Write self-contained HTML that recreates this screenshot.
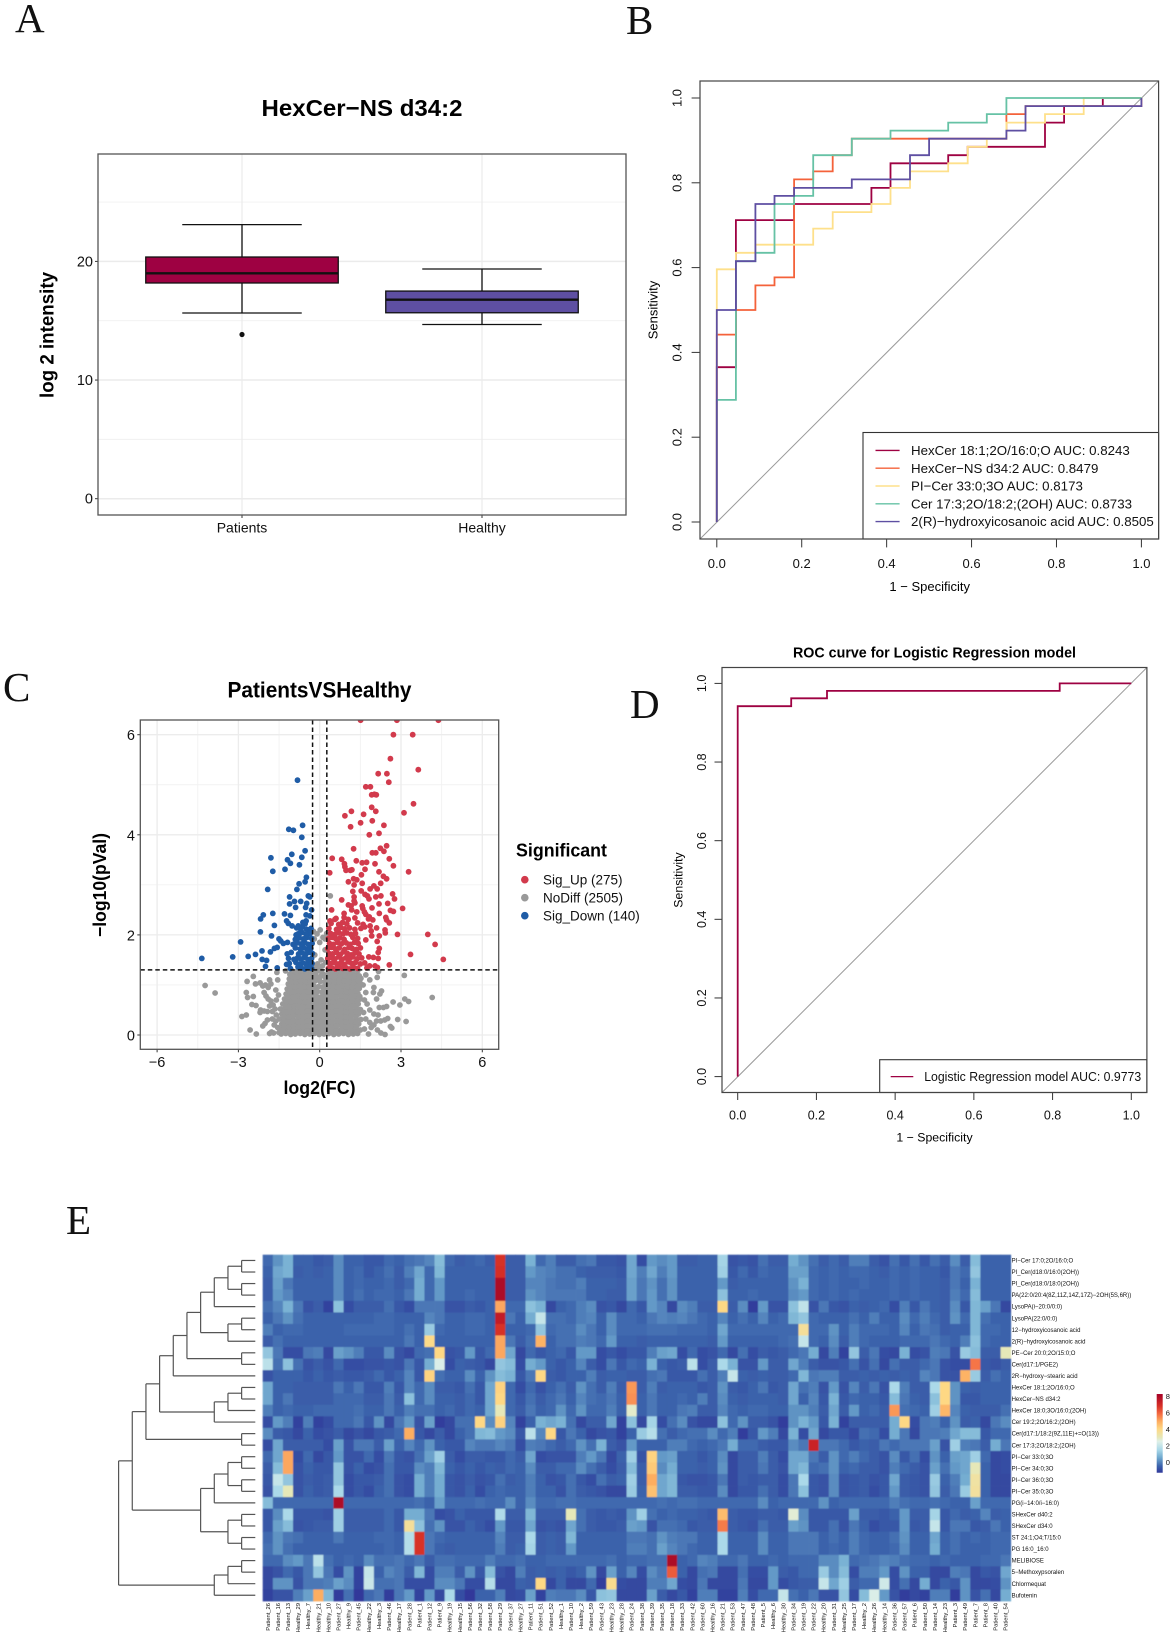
<!DOCTYPE html>
<html lang="en">
<head>
<meta charset="utf-8">
<title>Multi-panel lipidomics figure</title>
<style>
html,body{margin:0;padding:0;background:#fff}
svg{display:block;font-family:"Liberation Sans",Arial,sans-serif}
.letter{font-family:"Liberation Serif",serif;font-size:41px;fill:#111}
</style>
</head>
<body>
<svg id="fig" width="1174" height="1637" viewBox="0 0 1174 1637">
<defs><filter id="softCells" x="-1%" y="-1%" width="102%" height="102%"><feGaussianBlur stdDeviation="0.45"/></filter></defs>
<rect width="1174" height="1637" fill="#fff"/>
<text class="letter" x="15" y="32">A</text>
<text class="letter" x="626" y="34">B</text>
<text class="letter" x="3" y="701">C</text>
<text class="letter" x="630" y="718">D</text>
<text class="letter" x="66" y="1234">E</text>

<g id="panelA">
<text x="362" y="116" text-anchor="middle" font-size="23" font-weight="bold" textLength="201" lengthAdjust="spacingAndGlyphs">HexCer−NS d34:2</text>
<text x="53.6" y="335" transform="rotate(-90 53.6 335)" text-anchor="middle" font-size="19" font-weight="bold" textLength="126" lengthAdjust="spacingAndGlyphs">log 2 intensity</text>
</g>

<g id="panelB">
<text x="657.5" y="310" transform="rotate(-90 657.5 310)" text-anchor="middle" font-size="13">Sensitivity</text>
<text x="929.7" y="591" text-anchor="middle" font-size="13">1 − Specificity</text>
</g>

<g id="panelC">
<text x="319.5" y="697.3" text-anchor="middle" font-size="22" font-weight="bold" textLength="184" lengthAdjust="spacingAndGlyphs">PatientsVSHealthy</text>
<text x="319.5" y="1094" text-anchor="middle" font-size="18" font-weight="bold" textLength="72" lengthAdjust="spacingAndGlyphs">log2(FC)</text>
<text x="106" y="885" transform="rotate(-90 106 885)" text-anchor="middle" font-size="18" font-weight="bold" textLength="104" lengthAdjust="spacingAndGlyphs">−log10(pVal)</text>
<text x="516" y="856.7" font-size="18" font-weight="bold" textLength="91" lengthAdjust="spacingAndGlyphs">Significant</text>
</g>

<g id="panelD">
<text x="934.5" y="657.7" text-anchor="middle" font-size="15" font-weight="bold" textLength="283" lengthAdjust="spacingAndGlyphs">ROC curve for Logistic Regression model</text>
<text x="682.5" y="880" transform="rotate(-90 682.5 880)" text-anchor="middle" font-size="12.3">Sensitivity</text>
<text x="934.5" y="1141.5" text-anchor="middle" font-size="12.3">1 − Specificity</text>
</g>

<g id="panelE"></g>
</svg>

<script>
/* ---------- Panel A data ---------- */
const boxCategories=["Patients","Healthy"];
const boxQ1=[18.18,15.67];
const boxMedian=[19.0,16.77];
const boxQ3=[20.37,17.5];
const boxWhiskerLow=[15.65,14.68];
const boxWhiskerHigh=[23.1,19.36];
const boxOutliers=[13.84,null];
const boxColors=["#9E0142","#5E4FA2"];
const boxYTicks=[0,10,20];
const boxYMinor=[5,15,25];

/* ---------- Panel B data ---------- */
const rocSeriesNames=["HexCer 18:1;2O/16:0;O AUC: 0.8243","HexCer−NS d34:2 AUC: 0.8479","PI−Cer 33:0;3O AUC: 0.8173","Cer 17:3;2O/18:2;(2OH) AUC: 0.8733","2(R)−hydroxyicosanoic acid AUC: 0.8505"];
const rocColors=["#9E0142","#F4623A","#FEE08B","#66C2A5","#5E4FA2"];
const rocFpr1=[0,0,.045,.045,.182,.182,.364,.364,.409,.409,.545,.545,.591,.591,.773,.773,.818,.818,.909,.909,1];
const rocTpr1=[0,.365,.365,.712,.712,.75,.75,.788,.788,.846,.846,.865,.865,.885,.885,.942,.942,.981,.981,1,1];
const rocFpr2=[0,0,.045,.045,.091,.091,.136,.136,.182,.182,.227,.227,.273,.273,.318,.318,.682,.682,.727,.727,1,1];
const rocTpr2=[0,.442,.442,.5,.5,.558,.558,.577,.577,.808,.808,.827,.827,.865,.865,.904,.904,.962,.962,.981,.981,1];
const rocFpr3=[0,0,.045,.045,.091,.091,.227,.227,.273,.273,.364,.364,.409,.409,.455,.455,.545,.545,.591,.591,.636,.636,.682,.682,.773,.773,.864,.864,1];
const rocTpr3=[0,.596,.596,.635,.635,.654,.654,.692,.692,.731,.731,.75,.75,.788,.788,.827,.827,.846,.846,.885,.885,.904,.904,.942,.942,.962,.962,1,1];
const rocFpr4=[0,0,.045,.045,.091,.091,.136,.136,.182,.182,.227,.227,.318,.318,.409,.409,.545,.545,.636,.636,.682,.682,1];
const rocTpr4=[0,.288,.288,.615,.615,.635,.635,.75,.75,.769,.769,.865,.865,.904,.904,.923,.923,.942,.942,.962,.962,1,1];
const rocFpr5=[0,0,.045,.045,.091,.091,.136,.136,.182,.182,.318,.318,.455,.455,.5,.5,.682,.682,.727,.727,1,1];
const rocTpr5=[0,.5,.5,.615,.615,.75,.75,.769,.769,.788,.788,.808,.808,.865,.865,.904,.904,.923,.923,.981,.981,1];
const rocTicks=[0,.2,.4,.6,.8,1];

/* ---------- Panel C data: [log2FC, -log10(p)] ---------- */
const volcanoXTicks=[-6,-3,0,3,6];
const volcanoYTicks=[0,2,4,6];
const volcanoLegend=["Sig_Up (275)","NoDiff (2505)","Sig_Down (140)"];
const volcanoColors=["#D23A4C","#999999","#1F5CA6"];
const volcanoLimitFC=.263;
const volcanoLimitP=1.3;
const sigUpPoints=[[1.51,6.29],[2.85,6.29],[4.38,6.29],[2.72,6],[3.43,6],[2.61,5.52],[3.64,5.3],[2.16,5.22],[2.48,5.22],[2.55,5.05],[1.7,4.96],[1.87,4.96],[1.92,4.8],[2.02,4.81],[2.09,4.8],[3.46,4.62],[3.11,4.44],[1.92,4.55],[2.07,4.47],[1.62,4.41],[1.17,4.47],[.93,4.38],[1.94,4.28],[1.51,4.24],[1.14,4.16],[2.37,4.19],[2.19,4.03],[1.83,4],[1.25,3.72],[2.47,3.78],[2.24,3.73],[2.37,3.67],[1.94,3.64],[2.07,3.64],[.46,3.53],[.81,3.51],[2.57,3.52],[.91,3.42],[1.35,3.48],[1.57,3.44],[1.73,3.45],[2.04,3.42],[2.72,3.38],[.93,3.36],[.97,3.29],[1.13,3.29],[1.19,3.3],[1.67,3.31],[.37,3.24],[1.54,3.2],[2.19,3.26],[3.28,3.26],[2.35,3.17],[2.47,3.12],[1.25,3.12],[1.37,3.1],[1.06,3.06],[1.27,3],[1.57,3.03],[2.25,3.03],[2,2.98],[1.86,2.92],[2.12,2.92],[1.22,2.87],[1.53,2.88],[1.67,2.81],[1.76,2.78],[1.27,2.76],[2.07,2.76],[2.26,2.78],[2.69,2.82],[2.76,2.72],[1.82,2.72],[.81,2.7],[1.27,2.68],[1.06,2.6],[1.16,2.58],[1.3,2.64],[1.57,2.58],[1.59,2.53],[1.93,2.54],[2.19,2.62],[2.51,2.63],[.44,2.5],[3.06,2.53],[2.61,2.49],[2.72,2.47],[2.2,2.43],[1.65,2.46],[1.7,2.41],[1.18,2.5],[1.37,2.46],[.9,2.43],[2.44,2.35],[2.47,2.3],[2.57,2.24],[1.83,2.36],[1.96,2.3],[.38,2.28],[.56,2.31],[1.86,2.18],[2.1,2.14],[2.41,2.1],[2.42,2.04],[2.87,2.01],[3.99,2.01],[4.26,1.81],[4.56,1.51],[3.35,1.61],[2.57,1.4],[2.12,1.87],[2.2,1.73],[2.16,1.65],[2.16,1.53],[1.98,1.55],[1.81,1.56],[2.04,1.38],[2.13,1.35],[1.84,1.38],[1.74,1.34],[1.92,1.98],[2.2,1.98],[1.9,2.08],
[.32,1.33],[.45,1.34],[.58,1.32],[.72,1.35],[.85,1.33],[.98,1.34],[1.12,1.32],[1.25,1.35],[1.4,1.33],[.36,1.43],[.5,1.45],[.63,1.42],[.77,1.44],[.9,1.41],[1.05,1.46],[1.18,1.43],[1.32,1.45],[1.5,1.42],[1.66,1.44],[.3,1.53],[.42,1.55],[.56,1.52],[.7,1.56],[.82,1.51],[.96,1.54],[1.1,1.53],[1.22,1.56],[1.38,1.52],[1.55,1.54],[.34,1.63],[.48,1.62],[.62,1.65],[.76,1.61],[.88,1.66],[1.02,1.63],[1.16,1.6],[1.3,1.64],[1.45,1.62],[.3,1.73],[.44,1.75],[.58,1.72],[.72,1.74],[.92,1.71],[1.08,1.75],[1.2,1.73],[1.36,1.71],[1.5,1.74],[.36,1.83],[.5,1.81],[.66,1.85],[.8,1.82],[.98,1.84],[1.12,1.81],[1.28,1.85],[1.42,1.83],[.32,1.93],[.46,1.95],[.6,1.92],[.74,1.94],[.9,1.91],[1.22,1.95],[1.4,1.93],[1.7,1.9],[.4,2.03],[.56,2.01],[.7,2.05],[.86,2.02],[1,2.04],[1.15,2.01],[1.32,2.03],[.34,2.13],[.62,2.11],[.78,2.15],[.92,2.12],[1.1,2.14],[1.3,2.11],[1.52,2.13],[1.66,2.16],[.42,2.23],[.7,2.21],[.85,2.25],[1,2.22],[1.4,2.24],[1.6,2.21],[.6,2.33],[.9,2.35],[1.05,2.31],[1.3,2.34],[1.8,2.32]];
const sigDownPoints=[[-4.35,1.53],[-3.21,1.56],[-2.64,1.57],[-2.37,1.61],[-2.13,1.68],[-2.12,1.51],[-1.96,1.49],[-2,1.37],[-1.57,1.34],[-2.92,1.86],[-2.19,2.06],[-1.78,1.98],[-1.82,1.66],[-1.67,1.73],[-1.57,1.75],[-1.5,1.92],[-1.44,1.88],[-1.34,1.83],[-1.19,1.85],[-2.18,2.32],[-2.08,2.4],[-1.73,2.43],[-1.67,2.19],[-1.3,2.42],[-1.08,2.39],[-1.22,2.28],[-1.16,2.23],[-1.02,2.18],[-1.92,2.91],[-1.73,3.27],[-1.8,3.54],[-1.28,3.31],[-1.19,3.5],[-1.08,3.43],[-1.03,3.61],[-.75,3.4],[-.66,3.55],[-.54,3.68],[-.66,3.95],[-.63,4.19],[-1.14,4.11],[-.97,4.09],[-.82,5.09],[-.49,3.15],[-.54,3.06],[-.76,3.02],[-.84,2.91],[-1.11,2.76],[-.42,2.78],[-.36,2.76],[-.93,2.67],[-.7,2.67],[-1.11,2.62],[-.89,2.55],[-.48,2.63],[-.52,2.55],[-.3,2.5],[-.36,2.38],[-.5,2.4],[-.5,2.28],[-.54,2.22],[-.79,2.18],[-.64,2.16],[-.48,2.11],[-.36,2.1],[-.73,2.03],[-.87,2],
[-.3,1.33],[-.42,1.35],[-.55,1.32],[-.68,1.34],[-.8,1.36],[-1.08,1.33],[-.28,1.43],[-.38,1.45],[-.5,1.42],[-.62,1.44],[-.75,1.41],[-.88,1.45],[-1.12,1.43],[-1.22,1.41],[-.3,1.53],[-.44,1.51],[-.56,1.55],[-.7,1.52],[-.82,1.54],[-.95,1.51],[-1.15,1.53],[-.27,1.63],[-.4,1.65],[-.52,1.61],[-.64,1.64],[-.78,1.62],[-1.05,1.65],[-1.2,1.62],[-.33,1.73],[-.47,1.71],[-.6,1.75],[-.72,1.72],[-.9,1.74],[-.28,1.83],[-.42,1.81],[-.55,1.85],[-.68,1.82],[-.82,1.84],[-.98,1.81],[-.3,1.93],[-.46,1.95],[-.6,1.92],[-.75,1.94],[-.9,1.91],[-.36,2.03],[-.5,2.01],[-.65,2.05],[-.8,2.02],[-.32,2.13],[-.7,2.11],[-.85,2.14],[-.54,2.23],[-.62,2.25]];
const noDiffPoints=[[-4.23,.99],[-3.86,.84],[-2.87,.37],[-2.71,.4],[-2.57,.1],[-2.34,.02],[-2.71,.85],[-2.66,.75],[-2.45,.77],[-2.68,1.07],[-2.45,1.17],[-2.37,1.02],[-2.5,.61],[-2.35,.59],[-2.18,.5],[-1.93,.47],[-2.1,.18],[-2.02,.23],[-1.93,.3],[-1.78,.06],[-1.7,.04],[-1.85,.03],[-2.2,.45],[-2.05,.48],[-2.2,1.04],[-2.1,.98],[-2,1],[-1.9,.95],[-1.8,1.02],[-1.85,1.1],[-2.05,.85],[-1.98,.78],[-1.9,.72],[-1.8,.68],[-1.72,.6],[-1.85,.58],[-1.75,.47],[-1.65,.52],[-1.6,.4],[-1.75,.32],[-1.68,.2],[-1.62,.28],[-1.58,1.25],[-1.55,1.1],[-1.62,.9],[-1.52,.8],[-1.6,.7],[-1.55,.15],[-1.5,.05],
[3.12,1.19],[4.15,.75],[3.14,.72],[3.28,.67],[2.71,.66],[2.96,.6],[2.88,.31],[3.19,.27],[2.61,.17],[2.66,.14],[2.13,.1],[2.26,.04],[2.41,.01],[2.51,.33],[2.47,.57],[2.35,.55],[2.2,.55],[2.15,.4],[2.1,.72],[2.28,.88],[2.22,.82],[2,.95],[1.85,1.1],[1.98,.85],[2.1,.28],[2,.2],[1.9,.15],[2.25,.28],[2.4,.3],[2,.42],[1.85,.5],[1.75,.62],[1.65,.7],[1.7,.32],[1.85,.25],[1.65,.12],[1.8,.02],[2.12,1.15],[2.17,1.27],[1.7,.85],[1.6,1],[1.7,1.2],[1.62,.45],[.39,2.78],[.02,2.1],[-.23,2.07],[.26,2.03],[0,1.85],[-.2,1.92],[.2,1.92],[-.1,2.02],[.12,1.95],[.05,1.5],[-.08,1.42],[.1,1.38],[-.18,1.6],[.2,1.7],[-.15,1.35],[.22,1.45],[0,1.32],
[-1.42,.02],[-1.25,.03],[-1.07,.01],[-.9,.02],[-.72,.03],[-.55,.01],[-.37,.02],[-.2,.03],[-.02,.01],[.16,.02],[.34,.03],[.52,.01],[.7,.02],[.88,.03],[1.06,.01],[1.24,.02],[1.4,.03],
[-1.46,.12],[-1.3,.1],[-1.14,.13],[-.97,.11],[-.8,.12],[-.63,.1],[-.46,.13],[-.28,.11],[-.1,.12],[.08,.1],[.25,.13],[.43,.11],[.61,.12],[.79,.1],[.97,.13],[1.15,.11],[1.33,.12],[1.5,.1],
[-1.4,.22],[-1.22,.21],[-1.05,.23],[-.87,.2],[-.7,.22],[-.52,.21],[-.35,.23],[-.17,.2],[.01,.22],[.18,.21],[.36,.23],[.54,.2],[.72,.22],[.9,.21],[1.08,.23],[1.26,.2],[1.44,.22],
[-1.48,.32],[-1.31,.31],[-1.13,.33],[-.96,.3],[-.78,.32],[-.61,.31],[-.43,.33],[-.26,.3],[-.08,.32],[.1,.31],[.27,.33],[.45,.3],[.63,.32],[.81,.31],[.99,.33],[1.17,.3],[1.35,.32],[1.52,.31],
[-1.4,.42],[-1.23,.41],[-1.06,.43],[-.88,.4],[-.71,.42],[-.53,.41],[-.36,.43],[-.18,.4],[0,.42],[.18,.41],[.35,.43],[.53,.4],[.71,.42],[.89,.41],[1.07,.43],[1.25,.4],[1.43,.42],
[-1.45,.52],[-1.29,.51],[-1.12,.53],[-.95,.5],[-.77,.52],[-.6,.51],[-.42,.53],[-.25,.5],[-.07,.52],[.11,.51],[.28,.53],[.46,.5],[.64,.52],[.82,.51],[1,.53],[1.18,.5],[1.36,.52],[1.5,.51],
[-1.36,.62],[-1.18,.61],[-1.03,.63],[-.86,.6],[-.69,.62],[-.51,.61],[-.34,.63],[-.16,.6],[.02,.62],[.19,.61],[.37,.63],[.55,.6],[.73,.62],[.91,.61],[1.09,.63],[1.27,.6],[1.42,.62],
[-1.3,.72],[-1.14,.71],[-.97,.73],[-.79,.7],[-.62,.72],[-.44,.71],[-.27,.73],[-.09,.7],[.1,.72],[.27,.71],[.45,.73],[.63,.7],[.81,.72],[.99,.71],[1.17,.73],[1.35,.7],[1.5,.72],
[-1.24,.82],[-1.06,.81],[-.89,.83],[-.71,.8],[-.54,.82],[-.36,.81],[-.19,.83],[.16,.8],[.33,.82],[.51,.81],[.69,.83],[.87,.8],[1.05,.82],[1.23,.81],[1.41,.83],
[-1.2,.92],[-1.02,.91],[-.84,.93],[-.67,.9],[-.49,.92],[-.32,.91],[-.14,.93],[.2,.9],[.38,.92],[.56,.91],[.74,.93],[.92,.9],[1.1,.92],[1.28,.91],[1.46,.93],
[-1.16,1.02],[-.98,1.01],[-.81,1.03],[-.63,1],[-.46,1.02],[-.28,1.01],[.24,1],[.42,1.02],[.6,1.01],[.78,1.03],[.96,1],[1.14,1.02],[1.32,1.01],[1.5,1.03],
[-1.12,1.12],[-.94,1.11],[-.77,1.13],[-.59,1.1],[-.42,1.12],[-.24,1.11],[-.05,1.13],[.28,1.1],[.46,1.12],[.64,1.11],[.82,1.13],[1,1.1],[1.18,1.12],[1.36,1.11],[1.52,1.13],
[-1.1,1.21],[-.92,1.22],[-.75,1.2],[-.57,1.23],[-.4,1.21],[-.22,1.2],[.12,1.22],[.3,1.21],[.48,1.23],[.66,1.2],[.84,1.22],[1.02,1.21],[1.2,1.23],[1.38,1.2],
[-1.26,1.28],[-1.02,1.28],[-.85,1.27],[-.67,1.28],[-.5,1.27],[-.32,1.28],[-.12,1.26],[.05,1.27],[.32,1.28],[.5,1.27],[.68,1.28],[.86,1.27],[1.04,1.28],[1.22,1.27],[1.4,1.28],
[-1.34,.07],[-1.16,.06],[-.98,.08],[-.81,.07],[-.63,.06],[-.46,.08],[-.28,.07],[-.11,.06],[.07,.08],[.25,.07],[.43,.06],[.61,.08],[.79,.07],[.97,.06],[1.15,.08],[1.33,.07],
[-1.31,.17],[-1.13,.16],[-.96,.18],[-.79,.17],[-.62,.16],[-.45,.18],[-.26,.17],[-.09,.16],[.09,.18],[.27,.17],[.45,.16],[.63,.18],[.81,.17],[.99,.16],[1.17,.18],[1.35,.17],
[-1.33,.27],[-1.15,.26],[-.97,.28],[-.8,.27],[-.62,.26],[-.44,.28],[-.27,.27],[-.09,.26],[.09,.28],[.26,.27],[.44,.26],[.63,.28],[.8,.27],[.98,.26],[1.16,.28],[1.34,.27],
[-1.32,.37],[-1.14,.36],[-.97,.38],[-.79,.37],[-.62,.36],[-.45,.38],[-.27,.37],[-.09,.36],[.09,.38],[.27,.37],[.44,.36],[.62,.38],[.8,.37],[.98,.36],[1.16,.38],[1.34,.37],
[-1.31,.47],[-1.14,.46],[-.97,.48],[-.8,.47],[-.62,.46],[-.44,.48],[-.27,.47],[-.09,.46],[.09,.48],[.27,.47],[.45,.46],[.62,.48],[.8,.47],[.98,.46],[1.16,.48],[1.34,.47],
[-1.27,.57],[-1.1,.56],[-.94,.58],[-.77,.57],[-.6,.56],[-.42,.58],[-.25,.57],[-.07,.56],[.1,.58],[.28,.57],[.46,.56],[.64,.58],[.82,.57],[1,.56],[1.18,.58],[1.34,.57],
[-1.22,.67],[-1.06,.66],[-.9,.68],[-.73,.67],[-.55,.66],[-.38,.68],[-.2,.67],[-.03,.66],[.15,.68],[.32,.67],[.5,.66],[.68,.68],[.86,.67],[1.04,.66],[1.22,.68],[1.4,.67],
[-1.15,.77],[-.98,.76],[-.8,.78],[-.63,.77],[-.45,.76],[-.28,.78],[-.1,.77],[.05,.76],[.24,.78],[.42,.77],[.6,.76],[.78,.78],[.96,.77],[1.14,.76],[1.32,.78],[1.48,.77],
[-1.13,.87],[-.95,.86],[-.78,.88],[-.6,.87],[-.43,.86],[-.25,.88],[-.08,.87],[.08,.86],[.26,.88],[.44,.87],[.62,.86],[.8,.88],[.98,.87],[1.16,.86],[1.34,.88],
[-1.09,.97],[-.91,.96],[-.74,.98],[-.56,.97],[-.39,.96],[-.21,.98],[-.04,.97],[.11,.96],[.3,.98],[.48,.97],[.66,.96],[.84,.98],[1.02,.97],[1.2,.96],[1.38,.98],
[-1.05,1.07],[-.87,1.06],[-.7,1.08],[-.52,1.07],[-.35,1.06],[-.17,1.08],[.02,1.07],[.18,1.06],[.36,1.08],[.54,1.07],[.72,1.06],[.9,1.08],[1.08,1.07],[1.26,1.06],[1.44,1.08],
[-1.02,1.17],[-.84,1.16],[-.67,1.18],[-.49,1.17],[-.32,1.16],[-.14,1.18],[.03,1.17],[.2,1.16],[.38,1.18],[.56,1.17],[.74,1.16],[.92,1.18],[1.1,1.17],[1.28,1.16],[1.46,1.18]];

/* ---------- Panel D data ---------- */
const logitFpr=[0,0,.136,.136,.227,.227,.818,.818,1];
const logitTpr=[0,.942,.942,.962,.962,.981,.981,1,1];
const logitLegend=["Logistic Regression model AUC: 0.9773"];
const logitColor="#9E0142";

/* ---------- Panel E data ---------- */
const heatRowLabels=["PI−Cer 17:0;2O/16:0;O","PI_Cer(d18:0/16:0(2OH))","PI_Cer(d18:0/18:0(2OH))","PA(22:0/20:4(8Z,11Z,14Z,17Z)−2OH(5S,6R))","LysoPA(i−20:0/0:0)","LysoPA(22:0/0:0)","12−hydroxyicosanoic acid","2(R)−hydroxyicosanoic acid","PE−Cer 20:0;2O/15:0;O","Cer(d17:1/PGE2)","2R−hydroxy−stearic acid","HexCer 18:1;2O/16:0;O","HexCer−NS d34:2","HexCer 18:0;3O/16:0;(2OH)","Cer 19:2;2O/16:2;(2OH)","Cer(d17:1/18:2(9Z,11E)+=O(13))","Cer 17:3;2O/18:2;(2OH)","PI−Cer 33:0;3O","PI−Cer 34:0;3O","PI−Cer 36:0;3O","PI−Cer 35:0;3O","PG(i−14:0/i−16:0)","SHexCer d40:2","SHexCer d34:0","ST 24:1;O4;T/15:0","PG 16:0_16:0","MELIBIOSE","5−Methoxypsoralen","Chlormequat","Bufotenin"];
const heatColLabels=["Patient_26","Patient_16","Patient_13","Healthy_29","Healthy_7","Healthy_21","Healthy_10","Patient_27","Healthy_9","Patient_45","Healthy_22","Healthy_3","Patient_46","Healthy_17","Patient_28","Patient_1","Patient_12","Patient_9","Healthy_19","Healthy_15","Patient_56","Patient_32","Patient_58","Patient_29","Patient_37","Healthy_27","Patient_11","Patient_51","Patient_52","Healthy_1","Patient_10","Healthy_2","Patient_59","Patient_43","Healthy_23","Healthy_28","Patient_24","Patient_38","Patient_39","Patient_35","Patient_18","Patient_33","Patient_42","Patient_60","Healthy_16","Patient_21","Patient_53","Patient_47","Patient_48","Patient_5","Healthy_6","Healthy_30","Patient_34","Patient_19","Patient_22","Healthy_20","Patient_31","Healthy_25","Patient_17","Healthy_2","Healthy_26","Healthy_14","Patient_36","Patient_57","Patient_6","Patient_50","Patient_14","Healthy_23","Patient_3","Patient_49","Patient_7","Patient_8","Patient_40","Patient_54"];
const heatValues=[
[-.4,.2,.7,-.5,-.5,-.7,-.6,.1,-.5,-.5, -.7,-.7,-.4,-.5,-.3,-.2,0,.9,-.4,-.6, -.5,-.4,-.6,6.8,-.6,-.6,.7,-.4,-.1,-.6, -.6,-.3,-.2,-.7,-.7,-.8,.5,-.9,.3,.1, .3,-.6,-.6,-.5,-.5,1.4,-.8,-.7,-.8,-.3, -.6,-.6,.6,.2,-.3,-.6,-.4,-.6,-.1,-.1, -.6,-.8,-.3,-.7,-.3,-.7,-.3,-.6,.1,-.6, .9,-.5,-.5,-.5],
[-.5,.5,.7,-.6,-.5,-.6,-.5,.1,-.5,-.4, -.7,-.5,-.3,-.6,-.1,.5,-.4,.8,-.5,-.5, -.5,-.5,-.5,6.9,-.6,-.6,.3,0,-.1,-.3, -.3,-.5,-.6,-.6,-.6,-.7,.5,-.1,.5,-.1, .3,-.5,-.5,-.5,-.5,1.3,-.7,-.4,-.7,-.4, -.5,-.5,.4,.4,-.4,-.5,-.4,-.5,-.4,-.4, -.5,-.6,-.4,-.5,-.4,-.5,-.5,-.7,-.2,-.4, 1.1,-.5,-.5,-.5],
[-.6,.4,-.2,-.5,-.5,-.5,-.5,.1,-.5,-.4, -.5,-.5,-.4,-.6,-.4,.6,-.4,.3,-.5,-.5, -.5,-.5,-.5,8,-.6,-.6,0,0,-.2,-.3, -.3,-.1,-.5,-.5,-.5,-.6,.4,-.2,.2,-.3, .2,-.5,-.5,-.5,-.5,.3,-.6,-.5,-.5,-.5, -.5,-.5,.2,.7,-.4,-.5,-.4,-.5,-.5,-.4, -.5,-.5,-.4,-.5,-.4,-.5,-.5,-.6,-.2,-.5, .7,-.5,-.5,-.5],
[-.6,.3,0,-.5,-.5,-.5,-.5,.1,-.5,-.3, -.5,-.4,-.4,-.5,-.2,.6,-.4,.3,-.5,-.5, -.4,-.5,-.5,8,-.6,-.6,.2,0,-.2,-.2, -.2,-.2,-.5,-.5,-.6,-.6,.4,-.2,.3,-.3, .2,-.5,-.5,-.5,-.5,1,-.5,-.5,-.4,-.5, -.5,-.5,.1,.3,-.4,-.5,-.4,-.5,-.4,-.5, -.5,-.5,-.4,-.5,-.4,-.5,-.5,-.6,-.1,-.4, .9,-.5,-.5,-.5],
[-.3,0,.7,-.2,-.8,-.6,-1.1,1,-.9,-.6, -.6,-.6,-.3,-.7,-.9,-.2,-.2,-.2,-.8,-.8, -.6,-.7,-.5,5,-.4,-.4,1,.7,-1,-.5, -.4,-.1,.1,-.8,-.7,-1,-.4,-.7,.3,0, -1,.1,-.1,-.6,-.6,4,-.6,.1,-1.2,.3, -.8,-.8,1,1.9,-.8,-.2,-.7,-.8,-.5,-.6, -.5,-.4,-.9,-.1,-.7,-.2,-.5,-.6,.1,-.7, .8,.4,-.2,-1],
[-.5,-.2,.2,-.3,-.5,-.5,-.5,-.5,-.5,-.5, -.5,-.4,-.4,-.5,-.5,-.5,0,-.2,-.5,-.5, -.4,-.4,-.5,7.4,-.2,-.5,.6,2,-.3,-.3, -.4,-.1,0,-.5,.1,-.4,-.4,-.5,-.2,0, -.1,0,-.2,-.4,-.5,0,-.5,-.3,-.5,0, -.5,-.4,.8,1.1,-.4,-.5,-.5,-.5,-.3,-.5, -.1,-.5,-.5,.1,-.4,-.1,-.4,-.6,.2,-.4, .8,-.3,-.5,-.5],
[-.1,-.5,-.4,-.4,-.5,-.5,-.5,-.5,-.4,-.4, -.4,-.4,-.4,-.5,-.3,-.5,1.2,-.4,-.5,-.5, -.4,-.4,-.5,6.8,-.5,-.5,-.4,1.1,-.4,-.3, -.3,.1,-.2,-.5,.1,-.4,-.4,-.4,-.3,-.3, -.3,-.4,-.4,-.4,-.5,.5,-.4,-.4,-.4,-.4, -.4,-.4,-.4,3.6,-.4,-.4,.2,-.5,-.1,-.4, -.4,-.4,-.5,0,-.5,-.2,-.3,-.6,-.5,-.5, .8,-.4,-.4,-.5],
[-.6,-.3,-.5,-.5,-.5,-.5,-.5,-.5,-.5,-.5, -.5,-.5,-.5,-.5,-.2,-.5,3.9,-.5,-.5,-.5, -.5,-.5,-.5,5,-.2,-.6,-.3,4.8,-.5,-.3, -.3,-.1,-.2,-.4,.3,-.5,-.5,-.6,-.5,-.5, -.5,-.5,-.5,-.5,-.6,.3,-.5,-.5,-.5,-.5, -.5,-.4,-.3,2,-.4,-.5,.1,-.6,-.1,-.4, -.5,-.5,-.5,-.4,-.4,-.4,-.2,-.4,-.5,-.1, 1,-.4,-.5,-.5],
[1.1,-.2,-.9,-.9,-.2,-.1,-1,.4,.2,-.1, -.7,-.7,.1,-.8,-1,-.4,-.3,4,-.8,-.7, .3,-.7,-.4,5,.5,-1,-.4,-.7,-.5,-.4, -.7,.3,.3,-.9,-.7,-.9,-.7,-.7,-.1,.4, .5,-.9,-.4,-.9,-.8,-.4,-1,-.3,-.9,-.6, -.7,-.6,-.4,-.2,.6,-1,-.1,-1.1,1.1,-.6, -.2,-.9,-1,.7,-.9,-.8,-.1,-.2,-.8,1.2, .9,-.6,-.6,3],
[1.8,-.3,1,-.3,-.8,-.6,-.8,-.4,-.9,-.9, -.8,-.8,-.7,-.8,-.2,-.7,.6,2.4,-.9,-.5, -.6,-.7,-1,1.1,.9,-.9,.6,.3,-.5,-.7, -.5,0,-.6,-.9,-.2,-.7,-.4,-.5,.7,-.5, -.7,-.6,1.8,-.9,-.6,1.5,.7,-.8,-.8,.3, -.6,-.6,.5,-.1,-.6,-.8,-.8,-.7,-.3,-.8, -.3,-1,-.3,-.6,-.6,-.4,-.2,-.8,-.9,-.9, 5.7,-.7,-.8,-.6],
[-.8,-.5,-.5,-.5,-.7,-.5,-.7,-.6,-.7,-.7, -.6,-.4,-.7,-.5,0,-.7,4.1,-.3,-.5,-.5, .1,-.5,.2,.9,.7,-.7,-.2,4,-.6,-.7, -.5,-.5,-.1,-.6,-.5,-.5,-.6,-.6,-.3,-.2, -.7,-.7,-.7,-.3,-.6,-.1,2,-.5,-.6,-.5, -.6,-.6,-.4,.8,-.2,-.1,-.1,-.6,-.6,-.5, -.6,-.5,-.6,-.5,-.6,0,-.2,-.8,-.8,4.8, 1.2,-.6,-.3,-.5],
[.5,-.5,-.5,-.6,-.6,-.6,-.6,-.2,-.5,-.2, -.7,-.7,-.1,-.7,0,-.4,.1,-.6,-.6,-.7, -.3,-.7,.5,4.1,-.4,-.9,-.4,-.8,-.5,-.3, -.6,.2,-.3,-.6,-.1,-.6,5.2,-.6,-.1,-.6, -.5,-.5,-.5,-.7,-.6,.2,-.6,-.7,-.5,-.2, -.7,-.6,.5,-.3,-.1,-.8,.3,-.8,0,-.6, -.2,-.8,1.5,-.1,-.6,-.6,1.5,4,.2,-.5, -.6,-.5,-.5,-.5],
[.5,-.5,-.2,-.6,-.6,-.6,-.6,-.4,-.4,-.4, -.6,-.6,-.2,-.6,1,-.4,.1,-.5,-.5,-.6, -.4,-.7,.5,4,-.4,-.7,-.3,-.6,-.4,-.2, -.5,0,-.3,-.4,-.2,-.5,5.3,-.5,-.2,-.5, -.5,-.4,-.5,-.1,-.6,.1,-.5,-.6,-.5,-.5, -.5,-.6,.5,-.5,0,-.7,.7,-.7,-.4,-.5, -.5,-.7,.9,-.2,-.5,-.6,1,4,.2,-.7, -.7,-.5,-.5,-.5],
[-.1,-.5,-.4,-.5,-.5,-.4,-.4,-.4,-.4,-.3, -.5,-.5,-.2,-.5,-.1,-.3,-.3,-.5,-.4,-.6, -.4,-.5,.5,3,-.4,-.6,-.2,-.5,-.4,.2, -.4,.2,-.4,-.4,-.1,-.5,2.8,-.5,-.2,-.5, -.5,-.2,-.1,-.6,-.6,0,-.4,-.5,-.4,-.4, -.5,-.5,.2,.2,-.1,-.6,.5,-.6,.3,-.5, -.4,-.6,5.2,-.3,-.4,-.5,1.3,4.7,0,-.5, -.6,-.6,-.6,-.3],
[-.9,.3,-.1,-1.1,-.1,-1.1,-.9,-.4,-.4,-.2, -.7,.2,-1,-.2,.3,-.8,.4,-1.2,-1,-.3, -.3,4,.1,4.1,0,-1.1,-.5,.7,.5,.7, -.3,-1,-.6,-.6,.5,-1.1,1,-1,1.4,-.9, -.3,.1,-.8,-1,-1,1,-.4,.2,-.6,-.6, -.8,-1.2,.2,.7,.3,-.7,.7,-1.1,-.6,-.6, -.6,-.6,.6,4,-.9,-.2,-.1,-.5,.2,-.6, -.5,-1,-.2,.1],
[.1,-.6,-.7,-1,-.5,-.9,-.8,-.6,-1,-.8, -1,-.7,-.6,-.4,4.9,-.7,-1,-.6,-1,-.5, -.3,.8,.9,.3,.1,-.7,1.8,0,4,-.7, -.2,-.5,-1,-.8,-.7,-1.1,-.5,1.2,1.7,-.3, -.6,-.4,-.3,-.3,.1,-.4,-.1,-1.2,-.7,.3, -.1,-1,.7,-.9,.5,-1,-.7,-.7,-1,-.3, -.4,-.9,.6,-.2,-1,-.2,-.2,-.1,.5,.9, .9,-.7,-.4,-.4],
[-.9,.5,-.6,-.6,-.6,-.6,-.9,.4,-.8,-.2, -.2,-.6,.4,-.5,0,-.4,.2,-.5,-.7,-.7, 0,-.2,-.2,0,-.2,-.9,-.1,-.2,-.4,-.6, -.4,.2,-.3,.7,-.6,-.8,.3,-.5,-.5,-.5, -.1,-.1,-.4,-.5,-.4,-.2,.6,-.4,-.4,-.6, -.7,-.7,.1,-.2,7.2,-.2,-.2,-.4,-.7,-.5, -.6,-.2,-.4,-.2,-.2,-.2,.4,-.8,1.3,-.1, -.2,-.6,.6,-.2],
[-.4,.5,5,-.9,-.4,-1,-.7,.3,-.8,-.8, -.4,-.9,-.2,-.7,-.8,-.3,.4,1.3,-.6,-.9, -.6,-.6,-.7,-.7,-.4,-.6,.5,-.9,-.8,-.8, -.8,-.1,.3,-.2,-1,-.5,1.3,-.8,4.1,.3, .4,-.5,-.5,-.7,-.5,.1,-1,-.6,-.6,-.1, -.6,-.9,.5,.5,-.2,-.6,.2,-.4,-.1,-.4, -.6,-.8,.1,-.7,-.3,-.9,.2,-.5,.4,.5, 1.3,-.4,-1,-.9],
[-.6,.9,5,-.8,-.5,-.7,-.7,1.1,-.8,-.5, -.9,-.8,-.3,-.7,-.7,.1,-.1,.8,-.5,-.7, -.5,-.7,-.5,-.6,-.4,-.5,.1,-.6,-.6,-.4, -.4,.1,-.3,-.6,-.9,-.6,.9,-.6,4.3,.1, .6,-.5,-.5,-.6,-.5,.2,-1,-.6,-.6,-.2, -.6,-.8,.5,.8,-.4,-.3,.2,-.5,-.4,-.6, -.6,-.8,-.1,-.4,-.6,-.8,.4,-.3,.3,.5, 3,-.5,-1,-.9],
[-.7,2,1.1,-.8,-.6,-.7,-.6,1.1,-.9,-.7, -.7,-.6,-.3,-.8,-.9,.6,-.1,.6,-.7,-.8, -.6,-.8,-.7,-.3,-.6,-.5,-.1,-.5,-.8,-.7, -.3,-.7,-.9,-.3,-.6,-.5,1.3,-.6,4.9,.5, .8,-.7,-.8,-.8,-.7,-.2,-1,-.6,-.7,-.6, -.6,-.9,-.2,1.5,-.7,-.8,.1,-.8,-.7,-.6, -.8,-.7,.5,-.6,-.7,-.8,1.2,-.5,-.1,.6, 3.4,-.5,-1,-1],
[-.8,1.5,3,-.8,-.5,-.7,-.6,1.5,-.9,-.7, -.9,-.5,-.3,-.8,-.9,.6,-.1,.6,-.7,-.8, -.5,-.9,-.5,-.4,-.5,-.5,-.1,-.5,-.5,-.8, -.3,-.6,-.7,-.8,-1,-1,1.2,-.5,4.5,.5, .8,-.6,-.6,-.7,-.7,.1,-1,-.7,-.7,-.3, -.6,-.9,-.2,1,-.7,-.8,.1,-.8,-.7,-.6, -.9,-.7,.3,-.6,-.7,-.8,1.1,-.6,-.2,1.2, 3.5,-.5,-1,-1],
[.9,-.4,-.4,-.4,-.4,-.4,-.4,8,-.4,-.4, -.4,-.4,-.4,-.4,-.4,-.3,-.5,.4,-.4,-.4, -.4,-.3,-.4,-.4,.1,-.5,.1,-.4,-.4,-.3, -.3,-.4,-.4,-.4,-.4,-.4,-.4,-.4,-.4,-.3, -.4,-.3,-.3,-.4,-.4,-.4,-.4,-.4,-.4,.1, -.5,-.4,-.4,-.4,-.4,.2,-.5,-.4,-.4,-.4, -.4,-.4,-.1,-.3,-.4,-.4,-.3,-.4,-.5,-.5, .4,-.4,-.4,-.4],
[-.7,.1,1.5,-.7,-.7,-.7,-.8,1.3,-.6,-.6, -.6,-.6,-.4,-.7,.6,.6,-.2,-.9,-.8,-.5, -.7,-.7,-.7,1.6,-.6,-.6,.8,-.6,-.6,-.6, 3,-.3,-.6,-.7,-.6,-.7,.2,1.3,-.3,-.5, -.4,-.5,-.5,-.6,-.7,4.6,-.6,-.7,-.7,-.6, -.6,-.7,2.7,.1,-.7,-.7,-.7,-.7,.4,-.6, -.6,-.7,-.5,.3,-.6,-.6,1.4,-.7,-.4,-.6, -.5,0,-.6,-.5],
[-.7,.4,.9,-.8,-.7,-.6,-.6,1.3,-.6,-.6, -.6,-.6,-.4,-.7,3.6,1,-.3,.2,-.8,-.8, -.5,-.7,-.9,.3,-.7,-.7,.5,-.8,-.7,-.8, .5,-.3,-.6,-.7,-.7,-.6,.4,.3,-.8,-.3, -.3,-.4,-.7,-.6,-.6,5.6,-.6,-.7,-.8,-.3, -.6,-.6,.4,.2,-.7,-.7,-.3,-.8,-.2,-.5, -.9,-.7,-.7,.3,-.7,-.6,2,-.7,-.2,-.2, -.7,-.6,-.2,-.5],
[-.4,.2,-.2,-.3,-.5,-.5,-.5,-.2,-.5,-.5, -.5,-.4,-.4,-.5,1.7,6.8,-.2,-.4,-.5,-.5, -.5,-.5,-.5,0,-.6,-.6,1.5,-.6,-.5,-.6, .8,-.5,-.5,-.5,-.5,-.5,-.2,-.2,-.3,.2, -.1,-.2,-.2,-.5,-.5,1.5,-.5,-.5,-.5,.1, -.5,-.5,-.2,-.2,-.2,-.5,-.3,-.5,-.1,-.4, -.5,-.5,-.3,.2,-.5,-.5,.5,-.5,-.3,-.5, -.4,-.5,-.4,-.4],
[-.3,.2,-.3,-.5,-.5,-.5,-.5,-.5,-.5,-.5, -.5,-.5,-.4,-.5,1.7,6.8,-.2,-.5,-.6,-.5, -.5,-.5,-.5,-.1,-.6,-.5,1.4,-.6,-.5,-.6, .3,-.5,-.5,-.5,-.5,-.5,-.1,-.1,-.3,.4, 0,-.2,-.4,-.5,-.5,1.5,-.5,-.5,-.5,.1, -.5,-.5,-.2,-.2,-.2,-.5,-.4,-.5,-.1,-.4, -.5,-.5,-.4,.1,-.5,-.5,.6,-.5,-.3,-.5, -.5,-.5,-.4,-.4],
[-.4,-.4,.1,.3,-.2,1.8,-.3,-.5,-.4,-.5, .1,-.3,-.3,-.2,-.4,-.2,-.6,-.3,-.3,-.4, -.4,-.4,-.1,-.4,-.4,-.3,-.5,-.5,-.4,-.4, -.4,-.4,-.4,-.4,-.3,-.5,-.4,-.4,-.3,-.3, 8,-.5,-.4,0,-.1,-.4,-.4,-.2,-.5,-.5, -.4,-.5,-.4,-.4,-.4,.1,.1,.7,-.4,-.3, -.2,0,-.1,-.3,-.4,-.4,-.5,-.4,-.5,-.5, -.5,-.4,-.4,-.2],
[-1,-.8,-.4,-.7,-.2,1.1,-.2,-.9,.2,-1.1, 2,-.5,0,-.2,-.6,.8,-.9,-.1,-.1,-.6, .2,-.7,.9,-.8,-1,-.1,-.6,-.5,-.6,-.5, -.7,-.5,.2,-1,.4,-.5,0,-.9,.1,-.2, 6.1,-.5,-1,-.3,-.2,-1,-1,-.3,-.9,-.9, .3,-.6,-.7,-.4,-.4,1.2,.1,.9,-.9,-.1, -.1,.3,-.9,.2,-.5,-.5,-1,-1,-.1,-.2, -1,-.7,-.8,.5],
[-1,.2,.2,-.8,-.2,-.2,-.1,.4,.1,-1.1, 2.1,-.3,-.3,-.2,-.9,-.9,-.9,.1,.1,-.2, -.9,-.9,1.7,-1,-1,-.5,-.6,4,-1,-.5, -1,-1,-.4,-1.2,3.8,-.9,-1,-1,-.1,-.1, .5,-.9,-1,-.2,-1,-1,-1,-.2,-1,-1, .3,-.9,-.7,-.6,-.6,2,.5,1.3,-.6,-.4, -.4,2.2,-.9,-.3,-1,.6,-1,-.5,-.7,.2, -1,-1,-.9,.2],
[-1.1,-.8,-.8,-.1,.4,4.9,.8,-1.2,-.3,-1.3, -.4,-.2,-1.2,-.2,.3,-1.1,.3,-1,1.5,-.9, -1.3,-.5,-.5,-.1,-1,-.9,.4,-1.1,-.1,-.2, -.2,.1,-.7,1,1.1,-1,-1,-1,.4,-.6, -1,-.7,-1.1,-.1,-.1,-1.1,-1.1,-.1,-.9,-.4, -.4,2,-.3,-.5,-.2,-.8,-.8,1.1,-.9,.9, 2.4,.3,-.8,-1.2,-1,-1.1,-.1,-.1,-1.2,.2, -.8,-.3,-1,.6]
];
const heatLegendTicks=[0,2,4,6,8];
const heatStopValues=[-1.3,-.5,.1,.6,1.5,2.5,3,4,4.9,5.8,6.8,8.24];
const heatStopColors=["#30389a","#3b62ab","#5a8cc0","#74add1","#abd9e9","#dff0e8","#e6e8b8","#fed884","#fdae61","#f46d43","#d73027","#a50026"];
const dendroTree=[10,[9,[8,[7,[6,[5,[4,[3,[2,[1,0,1],[1,2,3]],4],[2,[1,5,6],7]],[1,8,9]],10],[3,[2,[1,11,12],13],14]],[1,15,16]],[4,[3,[2,[1,17,18],[1,19,20]],21],[2,[1,22,23],[1,24,25]]]],[3,[2,[1,26,27],28],29]];

/* ---------- helpers ---------- */
const root=document.getElementById('fig');
const NS=root.namespaceURI;
function make(tag,parent,attrs){
  const e=document.createElementNS(NS,tag);
  for(const k in attrs)e.setAttribute(k,attrs[k]);
  parent.appendChild(e);
  return e;
}
function line(parent,x1,y1,x2,y2,stroke,w,dash){
  const a={x1:x1,y1:y1,x2:x2,y2:y2,stroke:stroke,'stroke-width':w};
  if(dash)a['stroke-dasharray']=dash;
  return make('line',parent,a);
}
function label(parent,x,y,str,size,anchor,rot){
  const a={x:x,y:y,'font-size':size,'text-anchor':anchor||'start',fill:'#111'};
  if(rot)a.transform='rotate('+rot+' '+x+' '+y+')';
  const e=make('text',parent,a);
  e.textContent=str;
  return e;
}
function linear(d0,d1,r0,r1){return v=>r0+(v-d0)*(r1-r0)/(d1-d0);}
function fmt1(v){return v.toFixed(1);}

/* ---------- Panel A ---------- */
(function(){
  const g=document.getElementById('panelA');
  const left=98,right=626,top=154,bottom=515;
  const y=linear(0,20,498.7,261.4);
  const x=linear(0,1,242,482);
  const boxW=192.5,capW=119.5;
  boxYMinor.forEach(v=>{
    const m=line(g,left,y(v),right,y(v),'#f0f0f0',.9);
    
    
  });
  boxYTicks.forEach(v=>{
    const m=line(g,left,y(v),right,y(v),'#ebebeb',1.5);
    
    
    const t=line(g,left-3,y(v),left,y(v),'#333',1);
    
    
    const l=label(g,93,y(v)+5,String(v),14.5,'end');
    
    
  });
  boxCategories.forEach((c,i)=>{
    const cx=x(i);
    const gv=line(g,cx,top,cx,bottom,'#ebebeb',1.2);
    
    
    const w=line(g,cx,y(boxWhiskerLow[i]),cx,y(boxWhiskerHigh[i]),'#111',1.3);
    
    
    const c1=line(g,cx-capW/2,y(boxWhiskerHigh[i]),cx+capW/2,y(boxWhiskerHigh[i]),'#111',1.3);
    
    
    const c2=line(g,cx-capW/2,y(boxWhiskerLow[i]),cx+capW/2,y(boxWhiskerLow[i]),'#111',1.3);
    
    
    const r=make('rect',g,{x:cx-boxW/2,y:y(boxQ3[i]),width:boxW,height:y(boxQ1[i])-y(boxQ3[i]),fill:boxColors[i],stroke:'#111','stroke-width':1.3});
    
    
    const md=line(g,cx-boxW/2,y(boxMedian[i]),cx+boxW/2,y(boxMedian[i]),'#111',2.4);
    
    
    if(boxOutliers[i]!==null){
      const o=make('circle',g,{cx:cx,cy:y(boxOutliers[i]),r:2.6,fill:'#111'});
      
      
    }
    const t=line(g,cx,bottom,cx,bottom+3,'#333',1);
    
    
    const l=label(g,cx,532.7,c,14,'middle');
    
    
  });
  const f=make('rect',g,{x:left,y:top,width:right-left,height:bottom-top,fill:'none',stroke:'#555','stroke-width':1.3});
  
  
})();

/* ---------- Panel B ---------- */
(function(){
  const g=document.getElementById('panelB');
  const left=700,right=1158.6,top=81,bottom=539;
  const x=linear(0,1,716.8,1141.4);
  const y=linear(0,1,522,98);
  const diag=line(g,left,bottom,right,top,'#999',1);
  
  
  const fprs=[rocFpr1,rocFpr2,rocFpr3,rocFpr4,rocFpr5];
  const tprs=[rocTpr1,rocTpr2,rocTpr3,rocTpr4,rocTpr5];
  fprs.forEach((fp,s)=>{
    const pts=fp.map((v,i)=>x(v).toFixed(1)+','+y(tprs[s][i]).toFixed(1)).join(' ');
    const p=make('polyline',g,{points:pts,fill:'none',stroke:rocColors[s],'stroke-width':1.8});
    
    
  });
  rocTicks.forEach(v=>{
    const t=line(g,x(v),bottom,x(v),bottom+8.4,'#333',1);
    
    
    const l=label(g,x(v),568,fmt1(v),13,'middle');
    
    
    const t2=line(g,left-8.4,y(v),left,y(v),'#333',1);
    
    
    const l2=label(g,681.3,y(v),fmt1(v),13,'middle',-90);
    
    
  });
  const lb=make('rect',g,{x:863,y:432.5,width:right-863,height:bottom-432.5,fill:'#fff',stroke:'#333','stroke-width':1.1});
  
  
  rocSeriesNames.forEach((n,i)=>{
    const ly=450.4+i*17.8;
    const sw=line(g,875.5,ly,899.6,ly,rocColors[i],1.4);
    
    
    const l=label(g,911,ly+4.6,n,13.3,'start');
    
    
  });
  const f=make('rect',g,{x:left,y:top,width:right-left,height:bottom-top,fill:'none',stroke:'#444','stroke-width':1.2});
  
  
})();

/* ---------- Panel C ---------- */
(function(){
  const g=document.getElementById('panelC');
  const left=140.3,right=498.7,top=720,bottom=1049.3;
  const x=linear(0,3,319.7,401);
  const y=linear(0,6,1035,734.7);
  const clip=make('clipPath',g,{id:'volcanoClip'});
  make('rect',clip,{x:left,y:top,width:right-left,height:bottom-top});
  const xMinor=volcanoXTicks.slice(0,-1).map((v,i)=>(v+volcanoXTicks[i+1])/2);
  const yMinor=volcanoYTicks.slice(0,-1).map((v,i)=>(v+volcanoYTicks[i+1])/2);
  xMinor.forEach(v=>{
    const m=line(g,x(v),top,x(v),bottom,'#f2f2f2',.9);
    
    
  });
  yMinor.forEach(v=>{
    const m=line(g,left,y(v),right,y(v),'#f2f2f2',.9);
    
    
  });
  volcanoXTicks.forEach(v=>{
    const m=line(g,x(v),top,x(v),bottom,'#ececec',1.3);
    
    
    const t=line(g,x(v),bottom,x(v),bottom+3,'#333',1);
    
    
    const l=label(g,x(v),1067,(v<0?'−':'')+Math.abs(v),14.5,'middle');
    
    
  });
  volcanoYTicks.forEach(v=>{
    const m=line(g,left,y(v),right,y(v),'#ececec',1.3);
    
    
    const t=line(g,left-3,y(v),left,y(v),'#333',1);
    
    
    const l=label(g,135,y(v)+5.5,String(v),14.5,'end');
    
    
  });
  const pts=make('g',g,{'clip-path':'url(#volcanoClip)'});
  
  
  noDiffPoints.forEach(p=>{
    const c=make('circle',pts,{cx:x(p[0]).toFixed(1),cy:y(p[1]).toFixed(1),r:2.9,fill:volcanoColors[1]});
    
    
  });
  sigDownPoints.forEach(p=>{
    const c=make('circle',pts,{cx:x(p[0]).toFixed(1),cy:y(p[1]).toFixed(1),r:2.9,fill:volcanoColors[2]});
    
    
  });
  sigUpPoints.forEach(p=>{
    const c=make('circle',pts,{cx:x(p[0]).toFixed(1),cy:y(p[1]).toFixed(1),r:2.9,fill:volcanoColors[0]});
    
    
  });
  [-volcanoLimitFC,volcanoLimitFC].forEach(v=>{
    const d=line(g,x(v),top,x(v),bottom,'#111',1.5,'4.5 3');
    
    
  });
  const h=line(g,left,y(volcanoLimitP),right,y(volcanoLimitP),'#111',1.5,'4.5 3');
  
  
  const f=make('rect',g,{x:left,y:top,width:right-left,height:bottom-top,fill:'none',stroke:'#555','stroke-width':1.3});
  
  
  volcanoLegend.forEach((n,i)=>{
    const ly=879.7+i*18;
    const c=make('circle',g,{cx:524.8,cy:ly,r:3.8,fill:volcanoColors[i]});
    
    
    const l=label(g,543,ly+4.8,n,13.5,'start');
    
    
  });
})();

/* ---------- Panel D ---------- */
(function(){
  const g=document.getElementById('panelD');
  const left=722,right=1146.9,top=667.5,bottom=1092.5;
  const x=linear(0,1,737.7,1131.3);
  const y=linear(0,1,1076.6,683.4);
  const diag=line(g,left,bottom,right,top,'#999',1);
  
  
  const pts=logitFpr.map((v,i)=>x(v).toFixed(1)+','+y(logitTpr[i]).toFixed(1)).join(' ');
  const p=make('polyline',g,{points:pts,fill:'none',stroke:logitColor,'stroke-width':1.8});
  
  
  rocTicks.forEach(v=>{
    const t=line(g,x(v),bottom,x(v),bottom+7.5,'#333',1);
    
    
    const l=label(g,x(v),1119.5,fmt1(v),12.5,'middle');
    
    
    const t2=line(g,left-7.5,y(v),left,y(v),'#333',1);
    
    
    const l2=label(g,706,y(v),fmt1(v),12.5,'middle',-90);
    
    
  });
  const lb=make('rect',g,{x:879.7,y:1059.7,width:right-879.7,height:bottom-1059.7,fill:'#fff',stroke:'#333','stroke-width':1.1});
  
  
  const sw=line(g,890.7,1076.6,913.3,1076.6,logitColor,1.3);
  
  
  const ll=label(g,924.2,1081.2,logitLegend[0],13,'start');
  ll.setAttribute('textLength','217');
  ll.setAttribute('lengthAdjust','spacingAndGlyphs');
  
  
  const f=make('rect',g,{x:left,y:top,width:right-left,height:bottom-top,fill:'none',stroke:'#444','stroke-width':1.2});
  
  
})();

/* ---------- Panel E ---------- */
function heatColor(v){
  const s=heatStopValues,c=heatStopColors;
  if(v<=s[0])return c[0];
  for(let i=1;i<s.length;i++){
    if(v<=s[i]){
      const t=(v-s[i-1])/(s[i]-s[i-1]);
      const a=parseInt(c[i-1].slice(1),16),b=parseInt(c[i].slice(1),16);
      const ch=sh=>Math.round(((a>>sh)&255)*(1-t)+((b>>sh)&255)*t);
      return 'rgb('+ch(16)+','+ch(8)+','+ch(0)+')';
    }
  }
  return c[c.length-1];
}
(function(){
  const g=document.getElementById('panelE');
  const left=262.7,right=1010.7,top=1254.7,bottom=1601;
  const colW=(right-left)/heatColLabels.length;
  const rowH=(bottom-top)/heatRowLabels.length;
  const cx=i=>left+i*colW;
  const ry=i=>top+i*rowH;
  const cells=make('g',g,{filter:'url(#softCells)'});
  
  
  heatValues.forEach((row,r)=>{
    row.forEach((v,c)=>{
      const e=make('rect',cells,{x:cx(c).toFixed(2),y:ry(r).toFixed(2),width:(colW+.4).toFixed(2),height:(rowH+.4).toFixed(2),fill:heatColor(v)});
      
      
    });
  });
  heatRowLabels.forEach((n,r)=>{
    const l=label(g,1011.6,ry(r)+rowH/2+2.1,n,6,'start');
    
    
  });
  heatColLabels.forEach((n,c)=>{
    const l=label(g,cx(c)+colW/2+2,1603,n,5.8,'end',-90);
    
    
  });
  const dx=h=>255.3-h*13.67;
  function drawNode(node){
    if(typeof node==='number')return {y:ry(node)+rowH/2,h:0};
    const a=drawNode(node[1]),b=drawNode(node[2]),h=node[0];
    const v=line(g,dx(h),a.y,dx(h),b.y,'#555',1.2);
    
    
    const h1=line(g,dx(h),a.y,dx(a.h),a.y,'#555',1.2);
    
    
    const h2=line(g,dx(h),b.y,dx(b.h),b.y,'#555',1.2);
    
    
    return {y:(a.y+b.y)/2,h:h};
  }
  drawNode(dendroTree);
  /* colour legend */
  const ly=linear(0,8,1462,1396);
  const defs=make('defs',g,{});
  const grad=make('linearGradient',defs,{id:'heatGradient',x1:0,y1:1,x2:0,y2:0});
  const s0=heatStopValues[0],s1=heatStopValues[heatStopValues.length-1];
  heatStopValues.forEach((v,i)=>{
    make('stop',grad,{offset:((v-s0)/(s1-s0)).toFixed(4),'stop-color':heatStopColors[i]});
  });
  const bar=make('rect',g,{x:1156.7,y:ly(s1),width:6,height:ly(s0)-ly(s1),fill:'url(#heatGradient)'});
  
  
  heatLegendTicks.forEach(v=>{
    const l=label(g,1165.7,ly(v)+2.8,String(v),7.5,'start');
    
    
  });
})();
</script>
</body>
</html>
